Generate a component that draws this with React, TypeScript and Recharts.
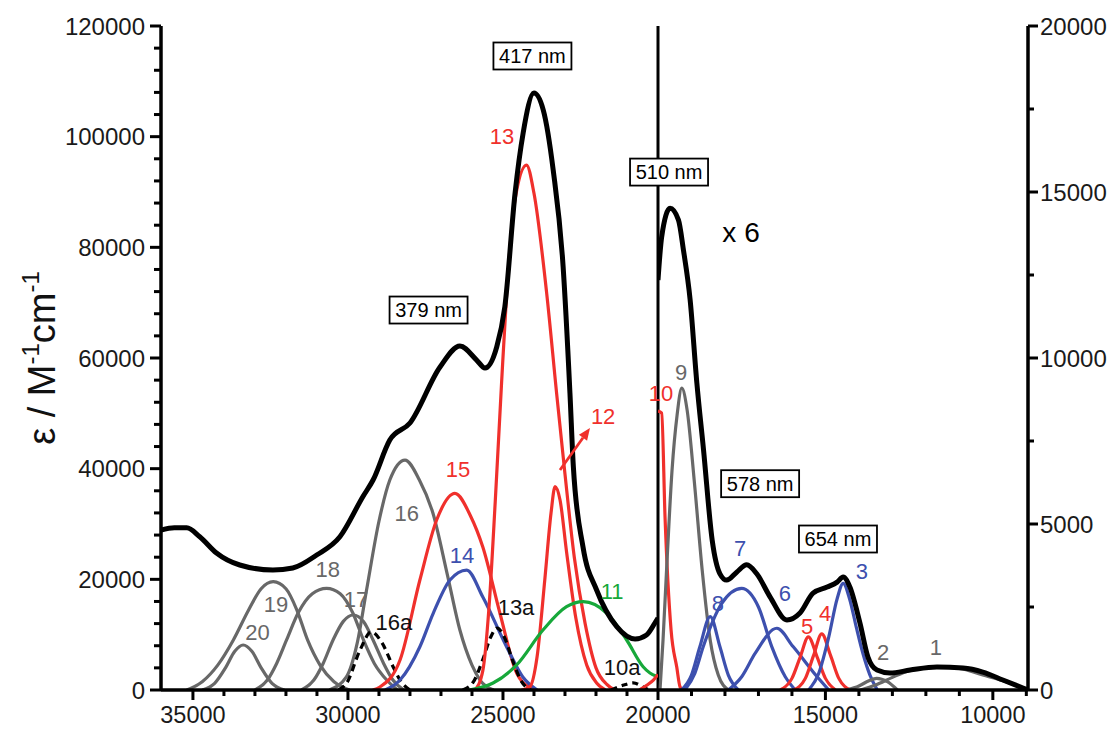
import React from 'react';
import { LineChart, Line, XAxis, YAxis, ReferenceLine, ReferenceDot } from 'recharts';

type Pt = [number, number];

const FONT = '"Liberation Sans", Arial, Helvetica, sans-serif';
const GRAY = '#686868';
const RED = '#f0302c';
const BLUE = '#3d50ae';
const GREEN = '#17a83a';

// wavenumber ranges (cm-1) of the two panels
const leftDomain: [number, number] = [20000, 36030];
const rightDomain: [number, number] = [8950, 20000];

const leftXTicks = [20000, 21000, 22000, 23000, 24000, 25000, 26000, 27000, 28000, 29000, 30000, 31000, 32000, 33000, 34000, 35000];
const rightXTicks = [9000, 10000, 11000, 12000, 13000, 14000, 15000, 16000, 17000, 18000, 19000];
const leftYTicks = [
  0, 4000, 8000, 12000, 16000, 20000, 24000, 28000, 32000, 36000, 40000, 44000, 48000, 52000, 56000, 60000,
  64000, 68000, 72000, 76000, 80000, 84000, 88000, 92000, 96000, 100000, 104000, 108000, 112000, 116000, 120000,
];
const rightYTicks = [0, 2500, 5000, 7500, 10000, 12500, 15000, 17500, 20000];

// ---- high-energy side (left axis) ----
const totalLeft: Pt[] = [
  [36030, 28900], [35600, 29300], [35200, 29300], [34780, 27700], [34240, 24760], [33490, 22590],
  [32420, 21680], [31780, 22050], [31010, 24390], [30260, 27700], [29520, 34930], [29190, 37950],
  [28650, 45180], [28000, 48250], [27030, 58370], [26390, 62160], [25850, 59630], [25580, 58190],
  [25200, 62030], [24940, 69260], [24610, 89800], [24350, 100650], [24000, 107880], [23700, 104800],
  [23380, 93960], [23060, 76490], [22840, 53670], [22730, 40350], [22420, 25890], [21980, 18070],
  [21330, 11440], [20740, 9220], [20370, 9940], [20100, 12110], [20000, 13000],
];
const band20: Pt[] = [[34700, 0], [34300, 1200], [33950, 4000], [33650, 7000], [33380, 8130], [33100, 7000], [32800, 4000], [32450, 1200], [32050, 0]];
const band19: Pt[] = [
  [35200, 0], [34700, 1500], [34200, 4500], [33700, 9000], [33200, 14500], [32800, 18300], [32410, 19570],
  [32000, 18300], [31650, 14500], [31300, 9000], [30900, 4500], [30450, 1500], [29950, 0],
];
const band18: Pt[] = [
  [33000, 0], [32600, 1800], [32300, 4800], [31980, 9040], [31600, 14000], [31150, 17400], [30690, 18380],
  [30250, 17400], [29850, 14000], [29500, 9040], [29150, 4800], [28750, 1800], [28400, 0],
];
const band17: Pt[] = [
  [31500, 0], [31100, 1800], [30800, 4800], [30480, 9040], [30150, 12400], [29830, 13550], [29500, 12400],
  [29190, 9040], [28850, 4800], [28550, 1800], [28200, 0],
];
const band16: Pt[] = [
  [30600, 0], [30050, 2350], [29700, 8500], [29400, 18070], [29000, 30500], [28650, 37950], [28160, 41560],
  [27700, 38000], [27260, 31980], [26800, 21000], [26390, 10840], [26000, 4500], [25740, 1800], [25300, 0],
];
const band16a: Pt[] = [[30300, 0], [30040, 1260], [29610, 7230], [29250, 10500], [28900, 8500], [28540, 4160], [28320, 1800], [28000, 0]];
const band15: Pt[] = [
  [29200, 0], [28970, 540], [28320, 5420], [27680, 19880], [27140, 30720], [26550, 35530], [26050, 31500],
  [25650, 25840], [25100, 13910], [24560, 3070], [24130, 500], [23900, 0],
];
const band14: Pt[] = [
  [28800, 0], [28320, 1800], [27680, 7820], [27250, 13860], [26710, 19880], [26170, 21680], [25650, 16800],
  [24880, 7770], [24360, 2350], [23900, 0],
];
const band13: Pt[] = [
  [25900, 0], [25650, 3500], [25450, 15000], [25250, 34000], [25050, 55000], [24880, 71740], [24600, 89000],
  [24240, 94870], [24000, 89760], [23590, 71690], [23270, 53620], [23000, 39000], [22700, 24000],
  [22350, 12000], [22000, 4000], [21650, 1000], [21400, 0],
];
const band13a: Pt[] = [[26300, 0], [25950, 1500], [25650, 5500], [25400, 9500], [25190, 11200], [24950, 9500], [24700, 5500], [24400, 1500], [24100, 0]];
const band12: Pt[] = [
  [24400, 0], [24130, 600], [23900, 6000], [23650, 20000], [23450, 32000], [23320, 36740], [23160, 34340],
  [22950, 25000], [22650, 13000], [22300, 4500], [21980, 1265], [21700, 0],
];
const band11: Pt[] = [
  [26100, 0], [25320, 1265], [24560, 4520], [23710, 10840], [22950, 15050], [22410, 15960], [21660, 13910],
  [21010, 9035], [20480, 4210], [20260, 3070], [20050, 2500],
];
const band10a: Pt[] = [[21500, 0], [21100, 900], [20800, 1300], [20500, 600], [20300, 0]];
const band10Tail: Pt[] = [[20600, 0], [20350, 900], [20150, 1800], [20000, 2800]];

// ---- low-energy side (right axis, x 6) ----
const totalRight: Pt[] = [
  [20000, 12350], [19890, 13650], [19640, 14510], [19390, 14160], [19240, 13250], [19040, 11750],
  [18840, 9250], [18640, 7230], [18380, 4500], [18150, 3500], [17950, 3310], [17650, 3550], [17350, 3770],
  [17050, 3500], [16650, 2800], [16150, 2110], [15760, 2320], [15370, 2920], [14950, 3100], [14650, 3250],
  [14470, 3400], [14270, 3100], [13970, 2020], [13730, 990], [13460, 600], [13070, 510], [12470, 600],
  [11670, 690], [10890, 660], [10300, 540], [9700, 300], [9100, 60], [8950, 0],
];
const band10: Pt[] = [[20000, 8400], [19890, 8340], [19790, 5210], [19610, 1810], [19440, 690], [19340, 90], [19250, 0]];
const band9: Pt[] = [
  [19940, 0], [19850, 1500], [19730, 3900], [19580, 6630], [19430, 8280], [19290, 9090], [19130, 8430],
  [18920, 6330], [18680, 3610], [18440, 1500], [18200, 450], [17900, 0],
];
const band8: Pt[] = [[19300, 0], [19000, 450], [18750, 1300], [18440, 2210], [18150, 1300], [17900, 450], [17600, 0]];
const band7: Pt[] = [[19200, 0], [18900, 500], [18650, 1300], [18100, 2600], [17500, 3060], [17000, 2500], [16600, 1300], [16200, 400], [15900, 0]];
const band6: Pt[] = [[17900, 0], [17500, 400], [17100, 1100], [16450, 1860], [15960, 1300], [15240, 390], [14900, 0]];
const band5: Pt[] = [[16350, 0], [16000, 350], [15750, 1000], [15510, 1600], [15250, 1000], [15000, 350], [14700, 0]];
const band4: Pt[] = [[15950, 0], [15600, 350], [15350, 1050], [15110, 1690], [14850, 1050], [14600, 350], [14250, 0]];
const band3: Pt[] = [
  [15500, 0], [15200, 500], [14900, 1600], [14650, 2750], [14470, 3210], [14280, 2750], [14080, 1900],
  [13880, 1100], [13670, 450], [13450, 0],
];
const band2: Pt[] = [[14350, 0], [14000, 120], [13700, 280], [13470, 350], [13150, 250], [12850, 0]];
const band1: Pt[] = [
  [13950, 0], [13500, 150], [13000, 380], [12500, 580], [11680, 690], [11000, 650], [10300, 450],
  [9700, 280], [9100, 60], [8950, 0],
];

type Band = { key: string; pts: Pt[]; color: string; width?: number; dash?: string };

const leftBands: Band[] = [
  { key: 'b20', pts: band20, color: GRAY },
  { key: 'b19', pts: band19, color: GRAY },
  { key: 'b18', pts: band18, color: GRAY },
  { key: 'b17', pts: band17, color: GRAY },
  { key: 'b16', pts: band16, color: GRAY },
  { key: 'b16a', pts: band16a, color: '#000', dash: '7 5' },
  { key: 'b15', pts: band15, color: RED },
  { key: 'b14', pts: band14, color: BLUE },
  { key: 'b13a', pts: band13a, color: '#000', dash: '7 5' },
  { key: 'b13', pts: band13, color: RED },
  { key: 'b12', pts: band12, color: RED },
  { key: 'b11', pts: band11, color: GREEN },
  { key: 'b10a', pts: band10a, color: '#000', dash: '6 5' },
  { key: 'b10t', pts: band10Tail, color: RED },
  { key: 'total', pts: totalLeft, color: '#000', width: 5 },
];

const rightBands: Band[] = [
  { key: 'b10', pts: band10, color: RED },
  { key: 'b9', pts: band9, color: GRAY },
  { key: 'b8', pts: band8, color: BLUE },
  { key: 'b7', pts: band7, color: BLUE },
  { key: 'b6', pts: band6, color: BLUE },
  { key: 'b5', pts: band5, color: RED },
  { key: 'b4', pts: band4, color: RED },
  { key: 'b3', pts: band3, color: BLUE },
  { key: 'b2', pts: band2, color: GRAY },
  { key: 'b1', pts: band1, color: GRAY },
  { key: 'total', pts: totalRight, color: '#000', width: 5 },
];

type Note = { x: number; y: number; text: string; color: string; boxed?: boolean; size?: number };

const leftNotes: Note[] = [
  { x: 32920, y: 10390, text: '20', color: GRAY },
  { x: 32320, y: 15540, text: '19', color: GRAY },
  { x: 30650, y: 21870, text: '18', color: GRAY },
  { x: 29740, y: 16450, text: '17', color: GRAY },
  { x: 28520, y: 12290, text: '16a', color: '#111' },
  { x: 28100, y: 31990, text: '16', color: GRAY },
  { x: 26450, y: 39940, text: '15', color: RED },
  { x: 26320, y: 24400, text: '14', color: BLUE },
  { x: 24580, y: 15000, text: '13a', color: '#111' },
  { x: 25030, y: 100120, text: '13', color: RED },
  { x: 21770, y: 49520, text: '12', color: RED },
  { x: 21480, y: 17890, text: '11', color: GREEN },
  { x: 21160, y: 4160, text: '10a', color: '#111' },
  { x: 27400, y: 68670, text: '379 nm', color: '#000', boxed: true },
  { x: 24050, y: 114580, text: '417 nm', color: '#000', boxed: true },
];

const rightNotes: Note[] = [
  { x: 19910, y: 8946, text: '10', color: RED },
  { x: 19310, y: 9578, text: '9', color: GRAY },
  { x: 18210, y: 2620, text: '8', color: BLUE },
  { x: 17550, y: 4277, text: '7', color: BLUE },
  { x: 16210, y: 2922, text: '6', color: BLUE },
  { x: 15550, y: 1928, text: '5', color: RED },
  { x: 15010, y: 2319, text: '4', color: RED },
  { x: 13910, y: 3584, text: '3', color: BLUE },
  { x: 13280, y: 1145, text: '2', color: GRAY },
  { x: 11700, y: 1295, text: '1', color: GRAY },
  { x: 17520, y: 13795, text: 'x 6', color: '#000', size: 28 },
  { x: 19670, y: 15600, text: '510 nm', color: '#000', boxed: true },
  { x: 16950, y: 6214, text: '578 nm', color: '#000', boxed: true },
  { x: 14625, y: 4548, text: '654 nm', color: '#000', boxed: true },
];

// arrow pointing from band 12 to its number
const arrow12: { x: number; y: number }[] = [
  { x: 23161, y: 39760 },
  { x: 22194, y: 47350 },
];

const rows = (pts: Pt[]) => pts.map(([x, y]) => ({ x, y }));

const XTick = (props: any) => {
  const { x, y, payload } = props;
  const major = payload.value % 5000 === 0;
  return (
    <g>
      <line x1={x} x2={x} y1={y} y2={y + (major ? 10 : 6)} stroke="#000" strokeWidth={3} />
      {major && (
        <text x={x} y={y + 33} textAnchor="middle" fontSize={23.5} fontFamily={FONT} fill="#1a1a1a">
          {payload.value}
        </text>
      )}
    </g>
  );
};

const LeftYTick = (props: any) => {
  const { x, y, payload } = props;
  const major = payload.value % 20000 === 0;
  return (
    <g>
      <line x1={x - (major ? 11 : 7)} x2={x} y1={y} y2={y} stroke="#000" strokeWidth={3} />
      {major && (
        <text x={x - 16} y={y + 8.5} textAnchor="end" fontSize={24} fontFamily={FONT} fill="#1a1a1a">
          {payload.value}
        </text>
      )}
    </g>
  );
};

const RightYTick = (props: any) => {
  const { x, y, payload } = props;
  const major = payload.value % 5000 === 0;
  return (
    <g>
      <line x1={x} x2={x + (major ? 10 : 6)} y1={y} y2={y} stroke="#000" strokeWidth={3} />
      {major && (
        <text x={x + 12} y={y + 8.5} textAnchor="start" fontSize={24} fontFamily={FONT} fill="#1a1a1a">
          {payload.value}
        </text>
      )}
    </g>
  );
};

const YTitle = (props: any) => {
  const vb = props.viewBox || { x: 0, y: 26, width: 161, height: 664 };
  const cx = vb.x + 55;
  const cy = vb.y + vb.height / 2;
  return (
    <text
      x={cx}
      y={cy}
      transform={`rotate(-90 ${cx} ${cy})`}
      textAnchor="middle"
      fontFamily={FONT}
      fontSize={38}
      fill="#111"
    >
      ε / M<tspan fontSize={24} dy={-16}>-1</tspan>
      <tspan dy={16}>cm</tspan>
      <tspan fontSize={24} dy={-16}>-1</tspan>
    </text>
  );
};

const noteShape = (n: Note) => (p: any) => {
  const { cx, cy } = p;
  if (n.boxed) {
    return (
      <g>
        <rect x={cx - 39} y={cy - 13.5} width={78} height={27} fill="#fff" stroke="#000" strokeWidth={1.8} />
        <text x={cx} y={cy + 7} textAnchor="middle" fontSize={20} fontFamily={FONT} fill="#000">
          {n.text}
        </text>
      </g>
    );
  }
  const size = n.size || 22;
  return (
    <text x={cx} y={cy + size * 0.36} textAnchor="middle" fontSize={size} fontFamily={FONT} fill={n.color}>
      {n.text}
    </text>
  );
};

const Arrow = (p: any) => {
  const { x1, y1, x2, y2 } = p;
  const a = Math.atan2(y2 - y1, x2 - x1);
  const len = 12;
  const half = 5;
  const bx = x2 - len * Math.cos(a);
  const by = y2 - len * Math.sin(a);
  const head = `${x2},${y2} ${bx - half * Math.sin(a)},${by + half * Math.cos(a)} ${bx + half * Math.sin(a)},${by - half * Math.cos(a)}`;
  return (
    <g>
      <line x1={x1} y1={y1} x2={bx} y2={by} stroke={RED} strokeWidth={2.8} />
      <polygon points={head} fill={RED} />
    </g>
  );
};

const axisLine = { stroke: '#000', strokeWidth: 3.5 };

const renderBands = (bands: Band[]) =>
  bands.map((b) => (
    <Line
      key={b.key}
      data={rows(b.pts)}
      dataKey="y"
      type="monotone"
      stroke={b.color}
      strokeWidth={b.width || 3.2}
      strokeDasharray={b.dash}
      dot={false}
      activeDot={false}
      isAnimationActive={false}
    />
  ));

export default function App() {
  return (
    <div style={{ position: 'fixed', left: 0, top: 0, width: 1118, height: 729, background: '#fff', fontFamily: FONT, overflow: 'hidden' }}>
      <div style={{ position: 'absolute', left: 0, top: 0 }}>
        {/* extra right margin leaves room for the 20000 tick label */}
        <LineChart width={720} height={729} margin={{ top: 26, right: 62, bottom: 0, left: 0 }}>
          <XAxis
            type="number"
            dataKey="x"
            domain={leftDomain}
            reversed
            allowDataOverflow
            ticks={leftXTicks}
            interval={0}
            tick={XTick}
            tickLine={false}
            tickSize={0}
            tickMargin={0}
            axisLine={axisLine}
            height={39}
          />
          <YAxis
            type="number"
            domain={[0, 120000]}
            allowDataOverflow
            ticks={leftYTicks}
            interval={0}
            tick={LeftYTick}
            tickLine={false}
            tickSize={0}
            tickMargin={0}
            axisLine={axisLine}
            width={161}
            label={{ content: YTitle }}
          />
          <ReferenceLine x={20000} stroke="#000" strokeWidth={3} />
          {renderBands(leftBands)}
          <ReferenceLine segment={arrow12} shape={Arrow} />
          {leftNotes.map((n) => (
            <ReferenceDot key={n.text} x={n.x} y={n.y} r={1} shape={noteShape(n)} />
          ))}
        </LineChart>
      </div>
      <div style={{ position: 'absolute', left: 600, top: 0 }}>
        <LineChart width={518} height={729} margin={{ top: 26, right: 0, bottom: 0, left: 58 }}>
          <XAxis
            type="number"
            dataKey="x"
            domain={rightDomain}
            reversed
            allowDataOverflow
            ticks={rightXTicks}
            interval={0}
            tick={XTick}
            tickLine={false}
            tickSize={0}
            tickMargin={0}
            axisLine={axisLine}
            height={39}
          />
          <YAxis
            type="number"
            orientation="right"
            domain={[0, 20000]}
            allowDataOverflow
            ticks={rightYTicks}
            interval={0}
            tick={RightYTick}
            tickLine={false}
            tickSize={0}
            tickMargin={0}
            axisLine={axisLine}
            width={90}
          />
          {renderBands(rightBands)}
          {rightNotes.map((n) => (
            <ReferenceDot key={n.text} x={n.x} y={n.y} r={1} shape={noteShape(n)} />
          ))}
        </LineChart>
      </div>
    </div>
  );
}
